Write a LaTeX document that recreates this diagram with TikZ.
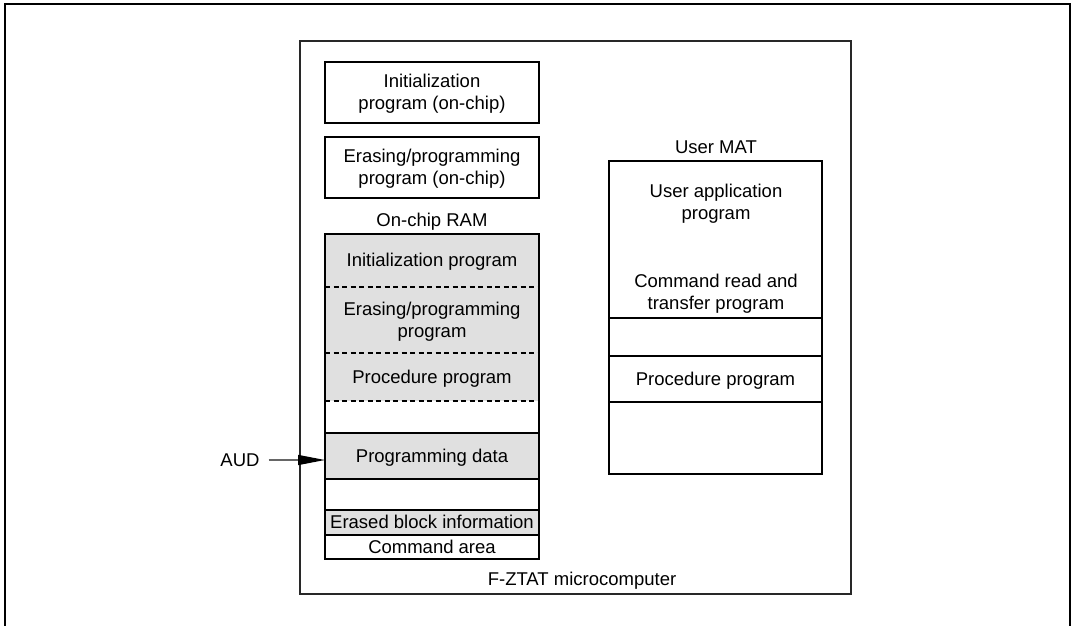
\documentclass[tikz,border=0pt]{standalone}
\usepackage{fontspec}
\setmainfont{Liberation Sans}
\usetikzlibrary{arrows.meta}
\definecolor{cellgray}{RGB}{224,224,224}
\definecolor{framegray}{RGB}{40,40,40}
\newcommand{\diagfont}{\fontsize{18.5}{22}\selectfont}
\begin{document}
\begin{tikzpicture}[x=1pt,y=-1pt,
  txt/.style={font=\diagfont, align=center, inner sep=0pt},
  cell/.style={anchor=north west, minimum width=214pt, inner sep=0pt, outer sep=0pt, font=\diagfont, align=center, text depth=1pt},
  mcell/.style={anchor=north west, minimum width=213pt, inner sep=0pt, outer sep=0pt, font=\diagfont, align=center, text depth=1pt},
  boxline/.style={line width=1.6pt, draw=black},
  sep/.style={line width=1.6pt, dash pattern=on 5pt off 3.5pt},
]
\useasboundingbox (0,0) rectangle (1072,626);

% outer frame, open at the bottom
\draw[line width=2.6pt] (5,626) -- (5,4) -- (1070,4) -- (1070,626);

% chip outline
\node[draw=framegray, line width=1.8pt, anchor=north west, minimum width=551pt, minimum height=553pt, inner sep=0pt] (chip) at (299,40) {};
\node[txt] (chiplbl) at (582,581) {F-ZTAT microcomputer};

% on-chip ROM programs
\node[cell, boxline, draw, minimum height=61pt] (initrom) at (325,62) {Initialization\\program (on-chip)};
\node[cell, boxline, draw, minimum height=61pt] (eraserom) at (325,137) {Erasing/programming\\program (on-chip)};

% on-chip RAM
\node[txt] (ramlbl) at (432,222) {On-chip RAM};
\node[cell, fill=cellgray, minimum height=53pt] (rinit) at (325,234) {Initialization program};
\node[cell, fill=cellgray, minimum height=66pt] (rerase) at (325,287) {Erasing/programming\\program};
\node[cell, fill=cellgray, minimum height=48pt] (rproc) at (325,353) {Procedure program};
\node[cell, minimum height=32pt] (rblank1) at (325,401) {};
\node[cell, fill=cellgray, minimum height=46pt] (rdata) at (325,433) {Programming data};
\node[cell, minimum height=31pt] (rblank2) at (325,479) {};
\node[cell, fill=cellgray, minimum height=25pt] (rerased) at (325,510) {Erased block information};
\node[cell, minimum height=24pt] (rcmd) at (325,535) {Command area};

\draw[sep] (rinit.south west) -- (rinit.south east);
\draw[sep] (rerase.south west) -- (rerase.south east);
\draw[sep] (rproc.south west) -- (rproc.south east);
\draw[boxline] (rdata.north west) -- (rdata.north east);
\draw[boxline] (rdata.south west) -- (rdata.south east);
\draw[boxline] (rerased.north west) -- (rerased.north east);
\draw[boxline] (rerased.south west) -- (rerased.south east);
\draw[boxline] (rinit.north west) rectangle (rcmd.south east);

% user MAT
\node[txt] (matlbl) at (716,147) {User MAT};
\node[mcell, boxline, draw, minimum height=313pt] (mat) at (609,161) {};
\node[txt] (matapp) at (716,204) {User application\\program};
\node[txt] (matcmd) at (716,294) {Command read and\\transfer program};
\coordinate (matcut) at (609,318);
\draw[boxline] (matcut) -- (mat.east |- matcut);
\node[mcell, boxline, draw, minimum height=46pt] (matproc) at (609,356) {Procedure program};

% AUD input
\node[txt, inner xsep=9pt] (aud) at (240,460) {AUD};
\draw[line width=1.4pt, draw=gray!80!black, -{Triangle[length=27pt,width=10pt,color=black]}] (aud.east) -- (aud.east -| rdata.west);
\end{tikzpicture}
\end{document}
